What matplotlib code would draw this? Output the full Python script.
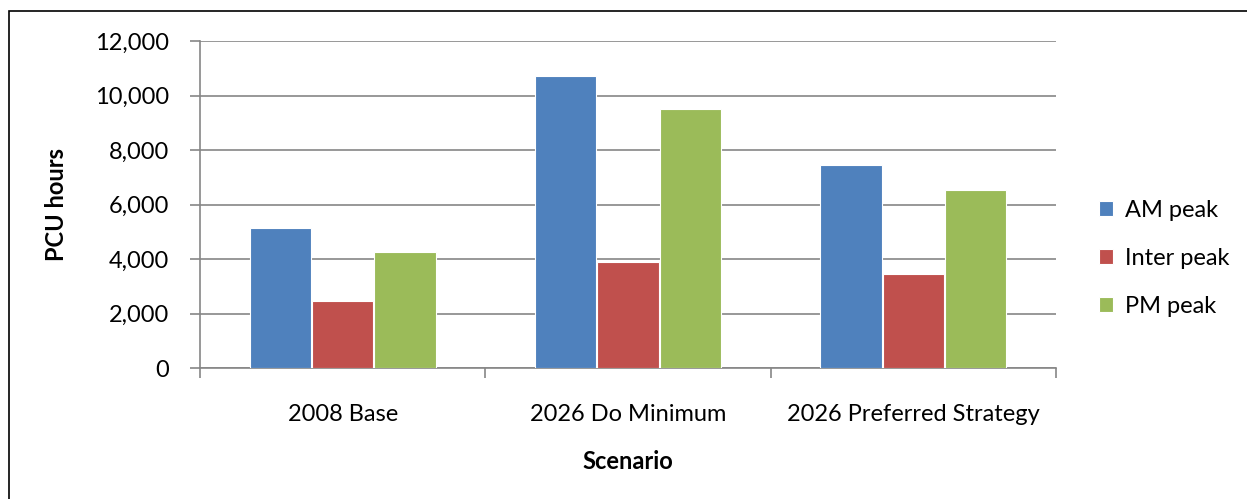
import matplotlib
matplotlib.use('Agg')
import matplotlib.pyplot as plt
import numpy as np

plt.rcParams['font.family'] = ['Lato', 'DejaVu Sans']
plt.rcParams['font.size'] = 17

scenarios = ['2008 Base', '2026 Do Minimum', '2026 Preferred Strategy']
series = ['AM peak', 'Inter peak', 'PM peak']
am_peak = [5150, 10700, 7450]
inter_peak = [2450, 3900, 3450]
pm_peak = [4250, 9500, 6550]
colors = ['#4F81BD', '#C0504D', '#9BBB59']
y_ticks = [0, 2000, 4000, 6000, 8000, 10000, 12000]

fig = plt.figure(figsize=(12.47, 4.99), dpi=100)
ax = fig.add_axes([0.1604, 0.2625, 0.6864, 0.6553])

# outer chart frame
frame = plt.Rectangle((9 / 1247, -0.05), 1.2, 1.05 - 11 / 499, transform=fig.transFigure,
                      fill=False, edgecolor='black', linewidth=1.2, clip_on=False)
fig.patches.append(frame)

x = np.arange(len(scenarios))
width = 0.218
for i, (name, vals) in enumerate(zip(series, [am_peak, inter_peak, pm_peak])):
    ax.bar(x + (i - 1) * width, vals, width=width * 0.985, color=colors[i],
           edgecolor='white', linewidth=0.8, label=name, zorder=3)

ax.set_xlim(-0.5, 2.5)
ax.set_ylim(0, 12000)
ax.set_yticks(y_ticks)
ax.set_yticklabels([f'{v:,}' for v in y_ticks])
ax.yaxis.grid(True, color='#868686', linewidth=1.2, zorder=0)
ax.set_axisbelow(True)

ax.set_xticks(x)
ax.set_xticklabels(scenarios)
ax.set_xticks([-0.5, 0.5, 1.5, 2.5], minor=True)
ax.tick_params(axis='x', which='major', length=0, pad=26)
ax.tick_params(axis='x', which='minor', length=7, color='#868686', width=1.2, direction='out')
ax.tick_params(axis='y', length=7, color='#868686', width=1.2, pad=15)

for s in ['top', 'right']:
    ax.spines[s].set_visible(False)
for s in ['left', 'bottom']:
    ax.spines[s].set_color('#868686')
    ax.spines[s].set_linewidth(1.2)

ax.set_ylabel('PCU hours', fontweight='bold', fontsize=17, labelpad=20)
ax.set_xlabel('Scenario', fontweight='bold', fontsize=17, labelpad=18)

ax.legend(loc='center left', bbox_to_anchor=(1.025, 0.335), frameon=False,
          handlelength=0.6, handleheight=0.6, labelspacing=1.15, fontsize=17,
          handletextpad=0.5)

fig.savefig('out.png', dpi=100)
